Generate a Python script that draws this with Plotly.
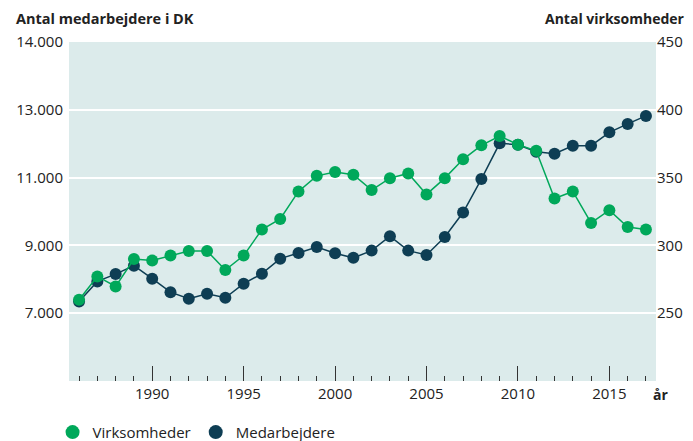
import plotly.graph_objects as go

years = list(range(1986, 2018))
medarbejdere = [7346, 7938, 8154, 8402, 8018, 7621, 7426, 7574, 7456, 7870,
                8166, 8609, 8775, 8953, 8766, 8633, 8846, 9269, 8846, 8716,
                9249, 9970, 10956, 12012, 11970, 11763, 11704, 11941, 11941, 12337,
                12583, 12820]
virksomheder = [259.9, 277.1, 269.7, 289.9, 288.8, 292.5, 295.9, 295.9, 281.8, 292.5,
                311.7, 319.5, 339.8, 351.3, 354.1, 352.1, 340.8, 349.6, 353.1, 337.6,
                349.6, 363.5, 373.8, 380.7, 374.3, 369.8, 334.6, 339.8, 316.6, 326.0,
                313.6, 311.7]

left_tickvals = [7000, 9000, 11000, 13000, 15000]
left_ticktext = ["7.000", "9.000", "11.000", "13.000", "14.000"]
right_tickvals = [250, 300, 350, 400, 450]
right_ticktext = ["250", "300", "350", "400", "450"]

GREEN = "#00a85a"
DARK = "#0e3e54"
TEXT = "#222222"
FONT = "Open Sans"

fig = go.Figure()
fig.add_trace(go.Scatter(
    x=years, y=virksomheder, name="Virksomheder", yaxis="y2",
    mode="lines+markers", showlegend=False,
    line=dict(color=GREEN, width=1.5),
    marker=dict(color=GREEN, size=12),
))
fig.add_trace(go.Scatter(
    x=years, y=medarbejdere, name="Medarbejdere", yaxis="y",
    mode="lines+markers", showlegend=False,
    line=dict(color=DARK, width=1.5),
    marker=dict(color=DARK, size=12),
))
# legend entries (markers only)
fig.add_trace(go.Scatter(x=[None], y=[None], name="Virksomheder", mode="markers",
                         marker=dict(color=GREEN, size=14)))
fig.add_trace(go.Scatter(x=[None], y=[None], name="Medarbejdere", mode="markers",
                         marker=dict(color=DARK, size=14)))

fig.update_layout(
    width=685, height=433,
    margin=dict(l=61, r=37, t=34, b=60, autoexpand=False),
    paper_bgcolor="white",
    plot_bgcolor="#dcebeb",
    font=dict(family=FONT, size=15, color=TEXT),
    showlegend=True,
    legend=dict(orientation="h", x=-0.028, xanchor="left",
                yref="container", y=0.02, yanchor="middle",
                font=dict(size=15, color=TEXT), itemwidth=30,
                traceorder="normal"),
    xaxis=dict(
        range=[1985.45, 2017.55], automargin=False,
        tickmode="linear", tick0=1990, dtick=5,
        ticks="inside", ticklen=15, tickcolor="#333333", tickwidth=1,
        showgrid=False, zeroline=False, showline=False,
        ticklabelstandoff=2,
        tickfont=dict(size=15, color=TEXT),
        minor=dict(tickmode="linear", tick0=1986, dtick=1, ticks="inside",
                   ticklen=5, tickcolor="#333333", tickwidth=1, showgrid=False),
    ),
    yaxis=dict(
        range=[5000, 15000], automargin=False,
        tickvals=left_tickvals, ticktext=left_ticktext,
        showgrid=True, gridcolor="white", gridwidth=2,
        zeroline=False, showline=False, ticks="", ticklabelstandoff=5,
        tickfont=dict(size=15, color=TEXT),
    ),
    yaxis2=dict(
        range=[200, 450], overlaying="y", side="right", automargin=False,
        tickvals=right_tickvals, ticktext=right_ticktext,
        showgrid=False, zeroline=False, showline=False, ticks="", ticklabelstandoff=0,
        tickfont=dict(size=15, color=TEXT),
    ),
    annotations=[
        dict(text="<b>Antal medarbejdere i DK</b>", xref="paper", yref="paper",
             x=-0.0937, y=1.07, xanchor="left", yanchor="middle", showarrow=False,
             font=dict(size=14.5, color=TEXT)),
        dict(text="<b>Antal virksomheder</b>", xref="paper", yref="paper",
             x=1.052, y=1.07, xanchor="right", yanchor="middle", showarrow=False,
             font=dict(size=14, color=TEXT)),
        dict(text="<b>år</b>", xref="paper", yref="paper",
             x=0.991, y=-0.041, xanchor="left", yanchor="middle", showarrow=False,
             font=dict(size=14, color=TEXT)),
    ],
)

fig.write_html("out.html")
